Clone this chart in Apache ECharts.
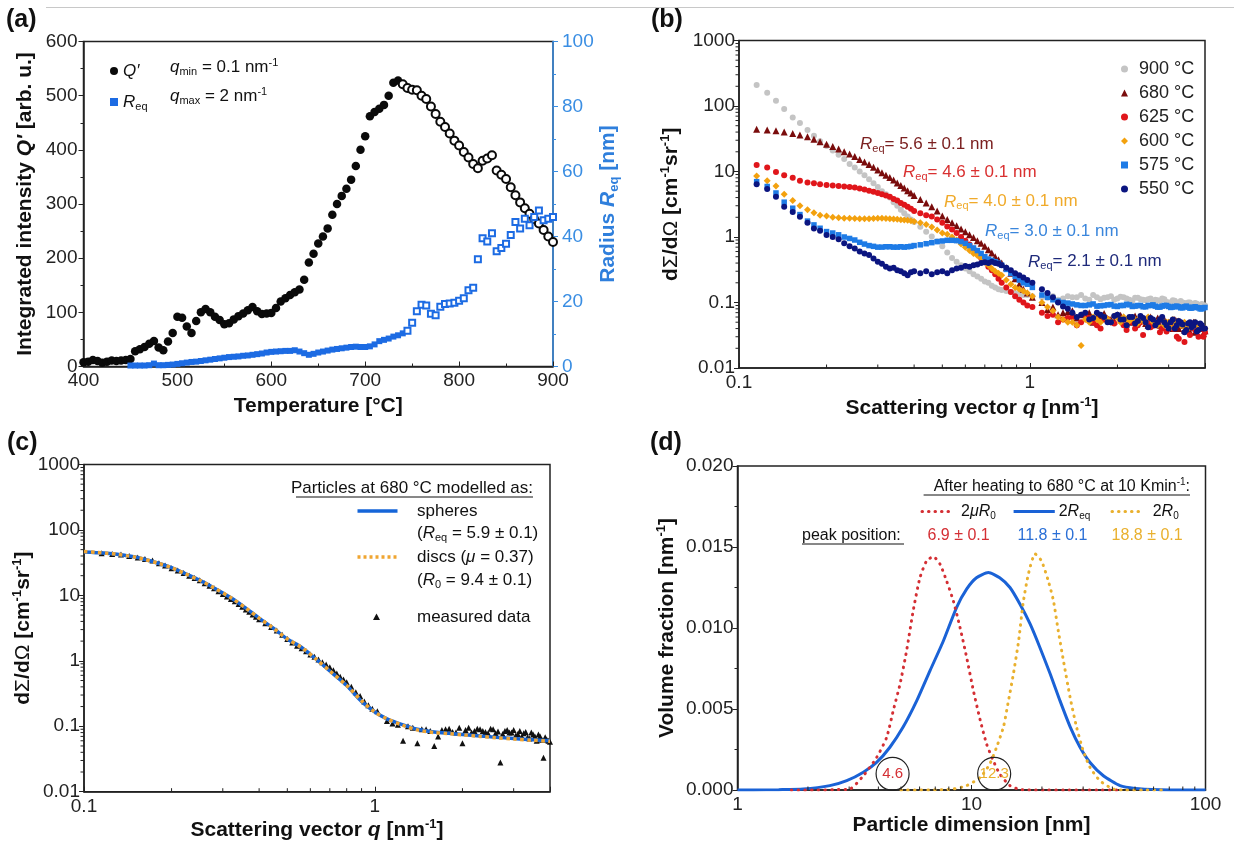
<!DOCTYPE html>
<html>
<head>
<meta charset="utf-8">
<script src="https://cdn.jsdelivr.net/npm/echarts/dist/echarts.min.js"></script>
<style>
  html, body { margin: 0; padding: 0; background: #fff; }
  #main { width: 1234px; height: 845px; }
</style>
</head>
<body>
<div id="main"></div>
<script>
// ---------- (a) integrated intensity / radius vs temperature ----------
const tempQFilled = [400,405,410,415,420,425,430,435,440,445,450,455,460,465,470,475,480,485,490,495,
  500,505,510,515,520,525,530,535,540,545,550,555,560,565,570,575,580,585,590,595,
  600,605,610,615,620,625,630,635,640,645,650,655,660,665,670,675,680,685,690,695,
  700,705,710,715,720,725,730,735];
const qFilled = [8,9,12,10,7,9,11,10,11,12,14,28,32,36,42,47,35,30,46,62,
  92,90,74,62,84,100,106,100,92,86,78,80,87,93,98,104,110,102,97,98,
  99,108,120,126,132,137,142,160,192,208,227,240,255,280,300,315,328,345,370,400,
  425,462,470,476,483,500,524,528];
const tempQOpen = [740,745,750,755,760,765,770,775,780,785,790,795,800,805,810,815,820,825,830,835,
  840,845,850,855,860,865,870,875,880,885,890,895,900];
const qOpen = [521,514,511,510,500,494,480,466,452,442,430,417,408,396,386,374,366,380,384,390,
  362,354,346,331,316,303,292,282,272,264,252,240,230];
const tempRFilled = [450,455,460,465,470,475,480,485,490,495,500,505,510,515,520,525,530,535,540,545,
  550,555,560,565,570,575,580,585,590,595,600,605,610,615,620,625,630,635,640,645,
  650,655,660,665,670,675,680,685,690,695,700,705,710,715,720,725,730,735,740];
const rFilled = [0.3,0.3,0.3,0.3,0.4,0.9,0.4,0.4,0.5,0.6,0.8,1.0,1.2,1.4,1.5,1.7,1.9,2.1,2.3,2.5,
  2.7,2.9,3.0,3.1,3.3,3.4,3.6,3.8,4.0,4.3,4.5,4.6,4.7,4.8,4.8,5.0,4.6,4.1,3.6,3.9,
  4.3,4.6,4.9,5.2,5.4,5.6,5.8,6.0,6.1,6.0,6.0,6.2,6.8,7.8,8.2,8.6,9.2,9.6,10.2];
const tempROpen = [745,750,755,760,765,770,775,780,785,790,795,800,805,810,815,820,825,830,835,840,
  845,850,855,860,865,870,875,880,885,890,895,900];
const rOpen = [11.0,13.5,17.0,19.0,18.8,16.2,15.8,18.4,19.2,19.4,19.6,20.2,21.0,23.5,24.2,33.0,39.5,38.5,41.0,35.5,
  36.5,37.8,40.5,44.5,42.5,45.5,43.5,46.0,48.0,45.0,45.5,46.0];

// ---------- (b) scattering curves ----------
const qB = [0.115,0.125,0.134,0.143,0.153,0.162,0.172,0.181,0.19,
  0.2,0.21,0.22,0.23,0.24,0.25,0.26,0.27,0.28,0.29,0.3,0.31,0.32,0.33,0.34,0.35,0.36,0.37,0.38,0.39,0.4,
  0.42,0.44,0.46,0.48,0.5,0.52,0.54,0.56,0.58,0.6,0.62,0.64,0.66,0.68,0.7,0.72,0.74,0.76,0.78,0.8,
  0.83,0.86,0.89,0.92,0.95,0.98,1.02,
  1.1,1.2,1.3,1.4,1.5,1.6,1.7,1.8,1.9,2.0,2.1,2.2,2.3,2.4,2.5,2.6,2.7,2.8,2.9,3.0,3.1,3.2,3.3,3.4,3.5,3.6,3.7,3.8,3.9,4.0];
// extra points in the noisy high-q tail
const qB2 = [1.15,1.25,1.35,1.45,1.55,1.65,1.75,1.85,1.95,2.05,2.15,2.25,2.35,2.45,2.55,2.65,2.75,2.85,2.95,3.05,
  3.15,3.25,3.35,3.45,3.55,3.65,3.75,3.85,3.95];
const i900 = [209,160,120,90,67,55,43,35,29,
  24.5,21,18,15.5,13,11.5,10,8.8,7.6,6.6,5.8,5.0,4.5,4.0,3.4,3.0,2.6,2.3,2.05,1.85,1.7,
  1.44,1.2,1.02,0.86,0.72,0.58,0.48,0.42,0.37,0.33,0.3,0.27,0.25,0.23,0.21,0.2,0.18,0.17,0.16,0.155,
  0.15,0.145,0.14,0.135,0.13,0.13,0.125,
  0.12,0.125,0.115,0.12,0.13,0.11,0.12,0.118,0.125,0.115,0.12,0.11,0.118,0.112,0.108,0.115,0.11,0.105,0.112,0.1,0.108,0.1,0.105,0.098,0.1,0.095,0.098,0.092,0.095,0.09];
const i900b = [0.118,0.11,0.125,0.12,0.115,0.13,0.112,0.12,0.11,0.122,0.115,0.105,0.118,0.11,0.112,0.1,0.108,0.115,0.102,0.1,
  0.106,0.097,0.1,0.094,0.1,0.092,0.096,0.09,0.088];
const i680 = [44,43,42,40,38,36,34,31,28.5,
  26,24,22,20,18.5,17,15.3,14,12.8,11.6,10.5,9.6,8.8,8.1,7.4,6.7,6.1,5.6,5.1,4.7,4.3,
  3.75,3.3,2.9,2.5,2.1,1.85,1.65,1.48,1.33,1.2,1.08,0.98,0.88,0.8,0.72,0.64,0.57,0.5,0.45,0.4,
  0.34,0.28,0.23,0.19,0.16,0.14,0.12,
  0.1,0.085,0.07,0.075,0.065,0.07,0.06,0.068,0.055,0.065,0.06,0.05,0.062,0.055,0.048,0.06,0.05,0.045,0.055,0.05,0.04,0.052,0.045,0.038,0.048,0.042,0.035,0.045,0.04,0.037];
const i680b = [0.078,0.065,0.072,0.058,0.066,0.05,0.062,0.057,0.052,0.064,0.047,0.058,0.05,0.055,0.045,0.052,0.058,0.042,0.05,0.046,
  0.055,0.04,0.048,0.043,0.036,0.05,0.04,0.044,0.034];
const i625 = [12.6,11.5,9.8,8.8,8.0,7.2,6.8,6.6,6.4,
  6.2,6.1,6.0,5.9,5.8,5.7,5.5,5.3,5.1,4.9,4.7,4.5,4.3,4.1,3.8,3.6,3.3,3.1,2.9,2.7,2.5,
  2.3,2.15,2.05,1.85,1.65,1.45,1.3,1.15,1.0,0.88,0.77,0.66,0.56,0.48,0.41,0.35,0.31,0.27,0.23,0.2,
  0.17,0.145,0.125,0.11,0.1,0.09,0.085,
  0.07,0.065,0.055,0.06,0.05,0.058,0.045,0.055,0.05,0.06,0.045,0.052,0.04,0.05,0.055,0.042,0.048,0.035,0.05,0.045,0.04,0.03,0.046,0.025,0.04,0.042,0.038,0.03,0.04,0.035];
const i625b = [0.062,0.05,0.058,0.045,0.062,0.05,0.04,0.056,0.048,0.052,0.038,0.05,0.045,0.032,0.048,0.044,0.05,0.04,0.036,0.048,
  0.042,0.028,0.045,0.038,0.032,0.043,0.036,0.04,0.03];
const i600 = [8.5,7.2,6.0,4.5,3.6,3.0,2.6,2.35,2.15,
  2.1,2.0,1.97,1.93,1.93,1.92,1.9,1.9,1.9,1.92,1.93,1.93,1.92,1.9,1.88,1.86,1.84,1.82,1.8,1.77,1.73,
  1.65,1.55,1.42,1.28,1.15,1.1,1.0,0.9,0.78,0.7,0.62,0.56,0.52,0.48,0.42,0.37,0.33,0.3,0.28,0.26,
  0.22,0.19,0.17,0.16,0.15,0.14,0.125,
  0.1,0.075,0.055,0.05,0.022,0.05,0.055,0.06,0.05,0.058,0.06,0.052,0.055,0.06,0.05,0.058,0.05,0.055,0.045,0.05,0.055,0.048,0.045,0.05,0.04,0.045,0.05,0.042,0.045,0.04];
const i600b = [0.085,0.06,0.05,0.045,0.055,0.06,0.05,0.056,0.062,0.05,0.055,0.058,0.048,0.052,0.06,0.05,0.045,0.055,0.05,0.042,
  0.048,0.052,0.044,0.04,0.048,0.043,0.046,0.04,0.042];
const i575 = [7.0,5.9,4.7,3.4,2.75,2.2,1.75,1.53,1.36,
  1.21,1.15,1.08,1.0,0.95,0.9,0.83,0.78,0.74,0.72,0.7,0.7,0.71,0.71,0.7,0.7,0.71,0.7,0.71,0.72,0.74,
  0.76,0.79,0.82,0.85,0.87,0.89,0.89,0.88,0.85,0.8,0.74,0.68,0.62,0.56,0.5,0.46,0.44,0.42,0.4,0.37,
  0.32,0.28,0.25,0.22,0.2,0.19,0.17,
  0.13,0.11,0.1,0.095,0.09,0.092,0.088,0.09,0.093,0.087,0.09,0.092,0.088,0.09,0.086,0.09,0.088,0.085,0.09,0.087,0.085,0.088,0.083,0.086,0.085,0.082,0.086,0.083,0.08,0.084];
const i575b = [0.12,0.105,0.098,0.092,0.09,0.095,0.089,0.092,0.088,0.09,0.094,0.087,0.09,0.086,0.09,0.092,0.085,0.088,0.09,0.084,
  0.087,0.086,0.083,0.088,0.082,0.085,0.084,0.08,0.083];
const i550 = [6.4,5.4,4.1,2.9,2.4,2.04,1.65,1.35,1.25,
  1.07,1.0,0.92,0.8,0.72,0.67,0.6,0.56,0.53,0.47,0.42,0.39,0.35,0.33,0.34,0.31,0.3,0.28,0.26,0.29,0.3,
  0.28,0.3,0.27,0.29,0.3,0.28,0.31,0.33,0.34,0.36,0.35,0.37,0.38,0.4,0.41,0.4,0.42,0.4,0.39,0.37,
  0.34,0.31,0.28,0.26,0.24,0.22,0.2,
  0.16,0.12,0.087,0.07,0.065,0.055,0.07,0.06,0.05,0.065,0.055,0.06,0.048,0.062,0.05,0.058,0.045,0.055,0.05,0.04,0.055,0.045,0.05,0.035,0.048,0.042,0.05,0.038,0.045,0.04];
const i550b = [0.14,0.1,0.08,0.06,0.07,0.058,0.065,0.05,0.062,0.055,0.045,0.06,0.052,0.058,0.042,0.055,0.05,0.06,0.045,0.05,
  0.04,0.052,0.046,0.038,0.05,0.044,0.036,0.048,0.04];

// ---------- (c) model fits at 680 °C ----------
const qFit = [0.1,0.11,0.12,0.13,0.14,0.15,0.16,0.18,0.2,0.22,0.25,0.28,0.32,0.36,0.4,0.45,0.5,0.56,0.63,0.7,
  0.8,0.9,1.0,1.1,1.25,1.4,1.6,1.8,2.0,2.3,2.6,3.0,3.5,4.0];
const sphereFit = [46,45,44,42.5,40.5,38.5,36,31,26.5,22,17,13,9.2,6.4,4.5,3.1,2.15,1.6,1.05,0.7,
  0.42,0.24,0.165,0.13,0.105,0.09,0.082,0.078,0.075,0.071,0.068,0.065,0.062,0.06];
const discFit = [47,45.5,44,42.5,40.5,38.5,36,31,26.5,22,17,13,9.2,6.4,4.5,3.1,2.15,1.6,1.05,0.7,
  0.42,0.245,0.165,0.13,0.103,0.088,0.08,0.077,0.074,0.07,0.067,0.064,0.061,0.059];
const measured680 = [44,43,42,40,38,36,34,31,28.5,
  26,24,22,20,18.5,17,15.3,14,12.8,11.6,10.5,9.6,8.8,8.1,7.4,6.7,6.1,5.6,5.1,4.7,4.3,
  3.75,3.3,2.9,2.5,2.15,1.9,1.7,1.55,1.4,1.25,1.15,1.05,0.95,0.88,0.8,0.72,0.64,0.57,0.52,0.47,
  0.4,0.33,0.29,0.24,0.21,0.185,0.17,
  0.12,0.105,0.1,0.055,0.09,0.05,0.088,0.092,0.08,0.055,0.095,0.085,0.09,0.082,0.092,0.078,0.028,0.085,0.08,0.088,0.076,0.07,0.082,0.065,0.075,0.06,0.07,0.033,0.062,0.058];
const measured680b = [0.11,0.06,0.095,0.09,0.085,0.07,0.09,0.082,0.095,0.088,0.08,0.092,0.085,0.078,0.09,0.083,0.076,0.088,0.08,0.072,
  0.085,0.078,0.068,0.08,0.07,0.075,0.062,0.068,0.06];

// ---------- (d) size distributions ----------
const dRedX = [1.7,2.2,2.6,3.02,3.45,3.93,4.34,4.63,4.95,5.28,5.64,6.02,6.43,6.87,7.33,7.83,8.36,8.93,9.53,10.2,
  10.9,11.6,12.4,13.2,14.6,16.1,18,21,25,30,36,42];
const dRedY = [0,0,0.00002,0.00006,0.00088,0.002,0.00325,0.0049,0.00654,0.0086,0.0111,0.0131,0.01415,0.0144,0.01395,0.0129,0.01168,0.01004,0.0082,0.0061,
  0.0043,0.00284,0.0018,0.00099,0.00027,0.00003,0,0,0,0,0,0];
const dBlueX = [1.0,1.17,1.5,1.91,2.48,2.93,3.45,3.93,4.48,5.11,5.83,6.65,7.58,8.64,9.53,10.5,11.8,13.2,14.6,16.1,
  17.8,19.6,21.7,23.9,26.4,29.1,32.1,36.6,43.1,50,64,80,100];
const dBlueY = [0,0,0.00002,0.00006,0.00027,0.00058,0.0011,0.0017,0.00264,0.0039,0.0055,0.00737,0.0092,0.01128,0.0124,0.0131,0.01343,0.0131,0.0125,0.01148,
  0.01025,0.0088,0.00716,0.0055,0.0039,0.00264,0.0017,0.00088,0.00027,0.0001,0.00002,0,0];
const dOrangeX = [5,6,7,8.36,9.53,10.9,11.96,12.8,13.7,14.3,15.1,15.9,16.6,17.5,18.7,19.9,21.3,22.4,23.5,24.7,
  26.4,28.1,30.0,32.1,35.4,40.3,45,55,65];
const dOrangeY = [0,0,0.00001,0.00006,0.00027,0.00078,0.0016,0.00264,0.0039,0.0053,0.00716,0.0092,0.01148,0.01333,0.01457,0.01415,0.0129,0.01168,0.0098,0.008,
  0.0057,0.0039,0.00243,0.0014,0.00057,0.00006,0,0,0];
const markX = [4.6, 12.5];
const markY = [0.001, 0.001];
const markText = ['4.6', '12.3'];

// ---------- helpers ----------
const F = '"Liberation Sans", Arial, sans-serif';
const AX = '#222';
const pairs = (xs, ys) => xs.slice(0, Math.min(xs.length, ys.length)).map((x, i) => [x, ys[i]]);

function richSet(sz, weight) {
  const w = weight || 'normal';
  const sub = Math.round(sz * 0.62);
  return {
    n: { fontSize: sz, fontFamily: F, fontWeight: w },
    i: { fontSize: sz, fontFamily: F, fontWeight: w, fontStyle: 'italic' },
    g: { fontSize: sz, fontFamily: F, fontWeight: 'normal' },
    s: { fontSize: sub, fontFamily: F, fontWeight: w, padding: [Math.round(sz * 0.55), 0, 0, 0] },
    p: { fontSize: sub, fontFamily: F, fontWeight: w, padding: [0, 0, Math.round(sz * 0.55), 0] }
  };
}
function txt(x, y, text, o) {
  o = o || {};
  const sz = o.size || 17;
  return {
    type: 'text', x: x, y: y, silent: true, z: 100,
    style: {
      text: text, fill: o.color || '#111', fontSize: sz, fontFamily: F,
      fontWeight: o.weight || 'normal', align: o.align || 'left', verticalAlign: o.va || 'middle',
      rich: richSet(sz, o.weight)
    }
  };
}
function hline(x1, x2, y, color, width, dash) {
  return { type: 'line', silent: true, z: 100, shape: { x1: x1, y1: y, x2: x2, y2: y },
    style: { stroke: color, lineWidth: width, lineDash: dash || null } };
}
function logMinor(lo, hi) {
  const out = [];
  for (let k = lo; k < hi; k++) for (let m = 2; m <= 9; m++) out.push(+(m * Math.pow(10, k)).toPrecision(2));
  return out;
}
function logLabel(v) {
  const l = Math.log10(v);
  if (Math.abs(l - Math.round(l)) > 0.01) return '';
  return String(+Number(v).toPrecision(2));
}
// minor ticks of the log axes, placed through the axes themselves
function minorTicks(xi, yi, xs, yBase, ys, xBase) {
  const data = xs.map(v => [v, yBase, 0]).concat(ys.map(v => [xBase, v, 1]));
  return {
    type: 'custom', xAxisIndex: xi, yAxisIndex: yi, silent: true, z: 6, clip: false, data: data,
    renderItem: function (params, api) {
      const p = api.coord([api.value(0), api.value(1)]);
      const up = api.value(2) === 0;
      return { type: 'line',
        shape: up ? { x1: p[0], y1: p[1], x2: p[0], y2: p[1] - 3.5 } : { x1: p[0], y1: p[1], x2: p[0] - 3.5, y2: p[1] },
        style: { stroke: AX, lineWidth: 1 } };
    }
  };
}

const labelStyle = { fontSize: 19, fontFamily: F, color: '#222' };
const nameStyle = { fontSize: 21, fontWeight: 'bold', fontFamily: F, color: '#111', rich: richSet(21, 'bold') };
const gridBox = { show: true, borderColor: AX, borderWidth: 1.5, backgroundColor: 'transparent' };
const axLine = { show: true, lineStyle: { color: AX, width: 1.5 } };

const C = {
  q: '#0a0a0a', r: '#1c6be3', rAxis: '#3a8ee3',
  t900: '#c4c4c4', t680: '#7a0c0c', t625: '#e0161b', t600: '#f3a10e', t575: '#1e7be6', t550: '#0b1580',
  sph: '#1565d8', disc: '#f0a531',
  dRed: '#d42f34', dBlue: '#1a62d6', dOrange: '#e9b02e'
};
const solid = color => ({ color: color, opacity: 1 });
const scatB = (name, symbol, size, color, a, b) => ({
  name: name, type: 'scatter', xAxisIndex: 1, yAxisIndex: 2, symbol: symbol, symbolSize: size,
  itemStyle: solid(color), data: pairs(qB, a).concat(pairs(qB2, b))
});

const chart = echarts.init(document.getElementById('main'));

const option = {
  animation: false,
  backgroundColor: '#fff',
  grid: [
    Object.assign({ left: 83.5, top: 41.5, width: 469.5, height: 325 }, gridBox),
    Object.assign({ left: 739, top: 40.5, width: 466, height: 327.5 }, gridBox),
    Object.assign({ left: 84, top: 464.5, width: 466, height: 327.2 }, gridBox),
    Object.assign({ left: 737.5, top: 466, width: 468, height: 324 }, gridBox)
  ],
  xAxis: [
    { gridIndex: 0, type: 'value', min: 400, max: 900, interval: 100,
      axisLine: axLine, axisTick: { inside: true, length: 5, lineStyle: { color: AX } },
      minorTick: { show: true, splitNumber: 2, length: 3, lineStyle: { color: AX } },
      splitLine: { show: false }, minorSplitLine: { show: false },
      axisLabel: Object.assign({ margin: 5 }, labelStyle),
      name: 'Temperature [°C]', nameLocation: 'middle', nameGap: 29, nameTextStyle: nameStyle },
    { gridIndex: 1, type: 'log', logBase: 10, min: 0.1, max: 4,
      axisLine: axLine, axisTick: { inside: true, length: 5, lineStyle: { color: AX } },
      splitLine: { show: false },
      axisLabel: Object.assign({ margin: 5, formatter: logLabel }, labelStyle),
      name: '{n|Scattering vector }{i|q}{n| [nm}{p|-1}{n|]}', nameLocation: 'middle', nameGap: 28, nameTextStyle: nameStyle },
    { gridIndex: 2, type: 'log', logBase: 10, min: 0.1, max: 4,
      axisLine: axLine, axisTick: { inside: true, length: 5, lineStyle: { color: AX } },
      splitLine: { show: false },
      axisLabel: Object.assign({ margin: 6, formatter: logLabel }, labelStyle),
      name: '{n|Scattering vector }{i|q}{n| [nm}{p|-1}{n|]}', nameLocation: 'middle', nameGap: 26, nameTextStyle: nameStyle },
    { gridIndex: 3, type: 'log', logBase: 10, min: 1, max: 100,
      axisLine: axLine, axisTick: { inside: true, length: 5, lineStyle: { color: AX } },
      splitLine: { show: false },
      axisLabel: Object.assign({ margin: 5, formatter: logLabel }, labelStyle),
      name: 'Particle dimension [nm]', nameLocation: 'middle', nameGap: 25, nameTextStyle: nameStyle }
  ],
  yAxis: [
    { gridIndex: 0, type: 'value', min: 0, max: 600, interval: 100,
      axisLine: axLine, axisTick: { length: 5, lineStyle: { color: AX } },
      minorTick: { show: true, splitNumber: 2, length: 3, lineStyle: { color: AX } },
      splitLine: { show: false }, minorSplitLine: { show: false },
      axisLabel: Object.assign({ margin: 6 }, labelStyle),
      name: '{n|Integrated intensity }{i|Q′}{n| [arb. u.]}', nameLocation: 'middle', nameRotate: 90, nameGap: 48,
      nameTextStyle: nameStyle },
    { gridIndex: 0, type: 'value', position: 'right', min: 0, max: 100, interval: 20,
      axisLine: { show: true, lineStyle: { color: C.rAxis, width: 1.5 } },
      axisTick: { length: 5, lineStyle: { color: C.rAxis } },
      minorTick: { show: true, splitNumber: 2, length: 3, lineStyle: { color: C.rAxis } },
      splitLine: { show: false }, minorSplitLine: { show: false },
      axisLabel: Object.assign({}, labelStyle, { margin: 9, color: C.rAxis }),
      name: '{n|Radius }{i|R}{s|eq}{n| [nm]}', nameLocation: 'middle', nameRotate: 90, nameGap: 34,
      nameTextStyle: Object.assign({}, nameStyle, { color: '#2f7fdc' }) },
    { gridIndex: 1, type: 'log', logBase: 10, min: 0.01, max: 1000,
      axisLine: axLine, axisTick: { length: 5, lineStyle: { color: AX } },
      splitLine: { show: false },
      axisLabel: Object.assign({ margin: 4, formatter: logLabel }, labelStyle),
      name: '{n|d}{g|Σ}{n|/d}{g|Ω}{n| [cm}{p|-1}{n|sr}{p|-1}{n|]}', nameLocation: 'middle', nameRotate: 90, nameGap: 55,
      nameTextStyle: nameStyle },
    { gridIndex: 2, type: 'log', logBase: 10, min: 0.01, max: 1000,
      axisLine: axLine, axisTick: { length: 5, lineStyle: { color: AX } },
      splitLine: { show: false },
      axisLabel: Object.assign({ margin: 4, formatter: logLabel }, labelStyle),
      name: '{n|d}{g|Σ}{n|/d}{g|Ω}{n| [cm}{p|-1}{n|sr}{p|-1}{n|]}', nameLocation: 'middle', nameRotate: 90, nameGap: 46,
      nameTextStyle: nameStyle },
    { gridIndex: 3, type: 'value', min: 0, max: 0.02, interval: 0.005,
      axisLine: axLine, axisTick: { length: 5, lineStyle: { color: AX } },
      minorTick: { show: true, splitNumber: 2, length: 3, lineStyle: { color: AX } },
      splitLine: { show: false }, minorSplitLine: { show: false },
      axisLabel: Object.assign({ margin: 4, formatter: v => v.toFixed(3) }, labelStyle),
      name: '{n|Volume fraction [nm}{p|-1}{n|]}', nameLocation: 'middle', nameRotate: 90, nameGap: 58,
      nameTextStyle: nameStyle }
  ],
  legend: [
    { data: ['Q′', 'Req'], orient: 'vertical', left: 105, top: 56, itemGap: 11, itemWidth: 8, itemHeight: 8,
      selectedMode: false,
      formatter: n => n === 'Req' ? '{i|R}{s|eq}' : '{i|Q′}',
      textStyle: { fontSize: 17, fontFamily: F, color: '#111', lineHeight: 20, rich: richSet(17) } },
    { data: ['900 °C', '680 °C', '625 °C', '600 °C', '575 °C', '550 °C'], orient: 'vertical',
      left: 1116, top: 55, itemGap: 6, itemWidth: 7, itemHeight: 7, selectedMode: false,
      textStyle: { fontSize: 18, fontFamily: F, color: '#222', lineHeight: 15, padding: [0, 0, 0, 6] } }
  ],
  series: [
    // (a)
    { name: 'Q′', type: 'scatter', xAxisIndex: 0, yAxisIndex: 0, symbol: 'circle', symbolSize: 8.5,
      itemStyle: solid(C.q), data: pairs(tempQFilled, qFilled) },
    { name: 'Q′ cooling', type: 'scatter', xAxisIndex: 0, yAxisIndex: 0, symbol: 'emptyCircle', symbolSize: 8,
      itemStyle: { color: C.q, opacity: 1, borderWidth: 1.3 }, data: pairs(tempQOpen, qOpen) },
    { name: 'Req', type: 'scatter', xAxisIndex: 0, yAxisIndex: 1, symbol: 'rect', symbolSize: 6,
      itemStyle: solid(C.r), data: pairs(tempRFilled, rFilled) },
    { name: 'Req open', type: 'scatter', xAxisIndex: 0, yAxisIndex: 1, symbol: 'emptyRect', symbolSize: 6,
      itemStyle: { color: C.r, opacity: 1, borderWidth: 1.3 }, data: pairs(tempROpen, rOpen) },
    // (b)
    scatB('900 °C', 'circle', 6, C.t900, i900, i900b),
    scatB('680 °C', 'triangle', 7, C.t680, i680, i680b),
    scatB('625 °C', 'circle', 6, C.t625, i625, i625b),
    scatB('600 °C', 'diamond', 7, C.t600, i600, i600b),
    scatB('575 °C', 'rect', 5.5, C.t575, i575, i575b),
    scatB('550 °C', 'circle', 6, C.t550, i550, i550b),
    // (c)
    { name: 'measured data', type: 'scatter', xAxisIndex: 2, yAxisIndex: 3, symbol: 'triangle', symbolSize: 6,
      itemStyle: solid('#111'), data: pairs(qB, measured680).concat(pairs(qB2, measured680b)) },
    { name: 'spheres', type: 'line', xAxisIndex: 2, yAxisIndex: 3, showSymbol: false, smooth: 0.3,
      lineStyle: { color: C.sph, width: 3.5 }, data: pairs(qFit, sphereFit) },
    { name: 'discs', type: 'line', xAxisIndex: 2, yAxisIndex: 3, showSymbol: false, smooth: 0.3,
      lineStyle: { color: C.disc, width: 3.5, type: [3.5, 3.5] }, data: pairs(qFit, discFit) },
    // (d)
    { name: '2Req', type: 'line', xAxisIndex: 3, yAxisIndex: 4, showSymbol: false, smooth: 0.2,
      lineStyle: { color: C.dBlue, width: 3 }, data: pairs(dBlueX, dBlueY) },
    { name: '2muR0', type: 'line', xAxisIndex: 3, yAxisIndex: 4, showSymbol: false, smooth: 0.2,
      lineStyle: { color: C.dRed, width: 3, type: [0.5, 6.2], cap: 'round' }, data: pairs(dRedX, dRedY) },
    { name: '2R0', type: 'line', xAxisIndex: 3, yAxisIndex: 4, showSymbol: false, smooth: 0.2,
      lineStyle: { color: C.dOrange, width: 3, type: [0.5, 6.2], cap: 'round' }, data: pairs(dOrangeX, dOrangeY) },
    { name: 'marks', type: 'scatter', xAxisIndex: 3, yAxisIndex: 4, symbol: 'circle', symbolSize: 33, z: 10,
      itemStyle: { color: 'rgba(255,255,255,0)', opacity: 1, borderColor: '#222', borderWidth: 1.2 },
      label: { show: true, position: 'inside', fontSize: 15, fontFamily: F, formatter: p => markText[p.dataIndex] },
      data: markX.map((x, i) => ({ value: [x, markY[i]], label: { color: i === 0 ? C.dRed : C.dOrange } })) },
    // minor ticks of the log axes
    minorTicks(1, 2, logMinor(-1, 1).filter(v => v < 4), 0.01, logMinor(-2, 3), 0.1),
    minorTicks(2, 3, logMinor(-1, 1).filter(v => v < 4), 0.01, logMinor(-2, 3), 0.1),
    minorTicks(3, 4, logMinor(0, 2), 0, [], 1)
  ],
  graphic: [
    hline(46, 1234, 7.5, '#c8c8c8', 1),
    txt(6, 8, '(a)', { size: 25, weight: 'bold', va: 'top' }),
    txt(651, 8, '(b)', { size: 25, weight: 'bold', va: 'top' }),
    txt(7, 431, '(c)', { size: 25, weight: 'bold', va: 'top' }),
    txt(650, 431, '(d)', { size: 25, weight: 'bold', va: 'top' }),
    // (a) q range
    txt(170, 67.7, '{i|q}{s|min}{n| = 0.1 nm}{p|-1}'),
    txt(170, 96.7, '{i|q}{s|max}{n| = 2 nm}{p|-1}'),
    // (b) radii
    txt(860, 144, '{i|R}{s|eq}{n|= 5.6 ± 0.1 nm}', { color: '#7b2020' }),
    txt(903, 172.4, '{i|R}{s|eq}{n|= 4.6 ± 0.1 nm}', { color: '#d93030' }),
    txt(944, 201.8, '{i|R}{s|eq}{n|= 4.0 ± 0.1 nm}', { color: '#f0aa2a' }),
    txt(985, 231.5, '{i|R}{s|eq}{n|= 3.0 ± 0.1 nm}', { color: '#3a86dc' }),
    txt(1028, 261.8, '{i|R}{s|eq}{n|= 2.1 ± 0.1 nm}', { color: '#1f2a7a' }),
    // (c) legend
    txt(533, 488, 'Particles at 680 °C modelled as:', { align: 'right' }),
    hline(296, 533, 497, '#111', 1),
    hline(357.5, 397.5, 511, C.sph, 3.5),
    txt(417, 511, 'spheres'),
    txt(417, 533, '{n|(}{i|R}{s|eq}{n| = 5.9 ± 0.1)}'),
    hline(357.5, 397.5, 557, C.disc, 3.5, [3, 3]),
    txt(417, 557, '{n|discs (}{i|μ}{n| = 0.37)}'),
    txt(417, 580, '{n|(}{i|R}{s|0}{n| = 9.4 ± 0.1)}'),
    { type: 'polygon', silent: true, z: 100, shape: { points: [[376.5, 613.5], [380, 620], [373, 620]] }, style: { fill: '#111' } },
    txt(417, 617, 'measured data'),
    // (d) legend
    txt(1190, 486.5, '{n|After heating to 680 °C at 10 Kmin}{p|-1}{n|:}', { align: 'right', size: 16 }),
    hline(923.6, 1190, 495, '#111', 1),
    { type: 'line', silent: true, z: 100, shape: { x1: 922, y1: 511.4, x2: 953, y2: 511.4 },
      style: { stroke: C.dRed, lineWidth: 3, lineDash: [0.5, 6], lineCap: 'round' } },
    txt(961, 511.4, '{n|2}{i|μR}{s|0}', { size: 16 }),
    hline(1013.6, 1054.8, 511.4, C.dBlue, 3),
    txt(1058.7, 511.4, '{n|2}{i|R}{s|eq}', { size: 16 }),
    { type: 'line', silent: true, z: 100, shape: { x1: 1112, y1: 511.4, x2: 1143, y2: 511.4 },
      style: { stroke: C.dOrange, lineWidth: 3, lineDash: [0.5, 6], lineCap: 'round' } },
    txt(1152.7, 511.4, '{n|2}{i|R}{s|0}', { size: 16 }),
    txt(802, 536, 'peak position:', { size: 16 }),
    hline(802, 904, 544, '#111', 1),
    txt(927.5, 536, '6.9 ± 0.1', { size: 16, color: C.dRed }),
    txt(1017.5, 536, '11.8 ± 0.1', { size: 16, color: '#2a6fd6' }),
    txt(1111.6, 536, '18.8 ± 0.1', { size: 16, color: C.dOrange })
  ]
};

chart.setOption(option);
</script>
</body>
</html>
